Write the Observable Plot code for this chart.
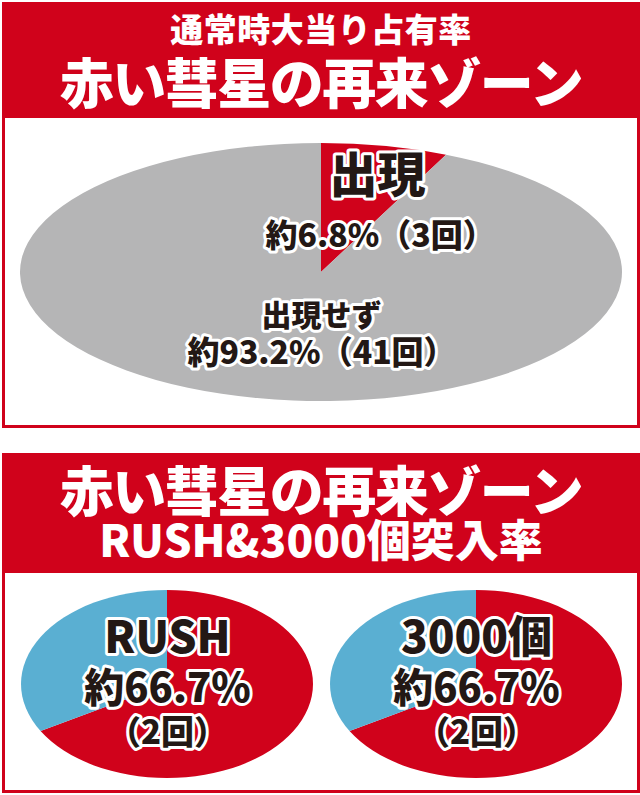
<!DOCTYPE html>
<html><head><meta charset="utf-8">
<script src="https://cdn.jsdelivr.net/npm/d3@7"></script>
<script src="https://cdn.jsdelivr.net/npm/@observablehq/plot@0.6"></script>
<style>
html,body{margin:0;padding:0;background:#fff;}
body{width:640px;height:795px;position:relative;overflow:hidden;font-family:"Noto Sans CJK JP","Noto Sans",sans-serif;}
.panel{position:absolute;left:2px;width:638px;background:#d0021b;}
.t{position:absolute;left:0;width:100%;text-align:center;color:#fff;font-weight:900;white-space:nowrap;line-height:1;}
.box{position:absolute;left:3px;width:632px;background:#fff;}
.box svg{display:block;}
#b2 .half{position:absolute;top:0;width:316px;height:217px;}
</style></head><body>
<div class="panel" style="top:2px;height:426px;">
  <div class="t" id="h1a" style="top:10px;font-size:33px;letter-spacing:0.5px"></div>
  <div class="t" id="h1b" style="top:52px;font-size:54px;letter-spacing:-1.5px"></div>
  <div class="box" id="b1" style="top:116px;height:307px"></div>
</div>
<div class="panel" style="top:453px;height:340px;">
  <div class="t" id="h2a" style="top:9px;font-size:54px;letter-spacing:-1.5px"></div>
  <div class="t" id="h2b" style="top:63px;font-size:44px;letter-spacing:0px"></div>
  <div class="box" id="b2" style="top:120px;height:217px">
    <div class="half" id="b2l" style="left:0"></div>
    <div class="half" id="b2r" style="left:316px"></div>
  </div>
</div>
<script>
// ---- data ----
const topHeader = ["通常時大当り占有率", "赤い彗星の再来ゾーン"];
const bottomHeader = ["赤い彗星の再来ゾーン", "RUSH&3000個突入率"];

const topCategories = ["出現", "出現せず"];
const topCounts = [3, 41];
const topPercents = ["6.8", "93.2"];

const bottomTitles = ["RUSH", "3000個"];
const bottomKeys = ["突入", "非突入"];
const bottomHitCounts = [2, 2];
const bottomMissCounts = [1, 1];
const bottomPercents = ["66.7", "66.7"];

const colorKeys = ["出現", "出現せず", "突入", "非突入"];
const colorValues = ["#d0021b", "#b5b5b6", "#d0021b", "#5aafd2"];

// ---- headers ----
document.getElementById("h1a").textContent = topHeader[0];
document.getElementById("h1b").textContent = topHeader[1];
document.getElementById("h2a").textContent = bottomHeader[0];
document.getElementById("h2b").textContent = bottomHeader[1];

const color = Plot.scale({color: {type: "ordinal", domain: colorKeys, range: colorValues}});
const FONT = '"Noto Sans CJK JP", sans-serif';

// elliptical pie drawn through Plot's x/y scales (unit circle -> ellipse)
function pieMark(slices) {
  return (index, scales) => {
    const sx = scales.x, sy = scales.y;
    const cx = sx(0), cy = sy(0), rx = sx(1) - cx, ry = cy - sy(1);
    const arcs = d3.pie().sort(null).value(d => d.value)(slices);
    const g = d3.create("svg:g");
    for (const a of arcs) {
      const x0 = sx(Math.sin(a.startAngle)), y0 = sy(Math.cos(a.startAngle));
      const x1 = sx(Math.sin(a.endAngle)), y1 = sy(Math.cos(a.endAngle));
      const large = a.endAngle - a.startAngle > Math.PI ? 1 : 0;
      g.append("path")
        .attr("d", `M${cx},${cy}L${x0},${y0}A${rx},${ry} 0 ${large} 1 ${x1},${y1}Z`)
        .attr("fill", color.apply(a.data.key));
    }
    return g.node();
  };
}

function label(text, x, y, size) {
  return Plot.text([text], {
    x: [x], y: [y], text: d => d,
    fontSize: size, fontWeight: 900, fontFamily: FONT,
    fill: "#231815", stroke: "white", strokeWidth: 6, strokeLinejoin: "round"
  });
}

// ---- top pie ----
const topSlices = topCategories.map((c, i) => ({key: c, value: topCounts[i]}));
const topPlot = Plot.plot({
  width: 632, height: 307, margin: 0,
  x: {domain: [-1, 1], range: [15, 617], axis: null},
  y: {domain: [-1, 1], range: [283, 25], axis: null},
  style: {background: "transparent", overflow: "visible"},
  marks: [
    pieMark(topSlices),
    label(topCategories[0], 0.186, 0.74, 48),
    label(`約${topPercents[0]}%（${topCounts[0]}回）`, 0.195, 0.28, 32),
    label(topCategories[1], 0.0, -0.34, 30),
    label(`約${topPercents[1]}%（${topCounts[1]}回）`, 0.0, -0.63, 32)
  ]
});
document.getElementById("b1").appendChild(topPlot);

// ---- bottom pies ----
function bottomPie(i, xr) {
  const slices = [
    {key: bottomKeys[0], value: bottomHitCounts[i]},
    {key: bottomKeys[1], value: bottomMissCounts[i]}
  ];
  return Plot.plot({
    width: 316, height: 217, margin: 0,
    x: {domain: [-1, 1], range: xr, axis: null},
    y: {domain: [-1, 1], range: [205, 17], axis: null},
    style: {background: "transparent", overflow: "visible"},
    marks: [
      pieMark(slices),
      label(bottomTitles[i], 0, 0.48, 44),
      label(`約${bottomPercents[i]}%`, 0, -0.05, 40),
      label(`（${bottomHitCounts[i]}回）`, 0, -0.52, 33)
    ]
  });
}
document.getElementById("b2l").appendChild(bottomPie(0, [16, 308]));
document.getElementById("b2r").appendChild(bottomPie(1, [9, 301]));
</script>
</body></html>
